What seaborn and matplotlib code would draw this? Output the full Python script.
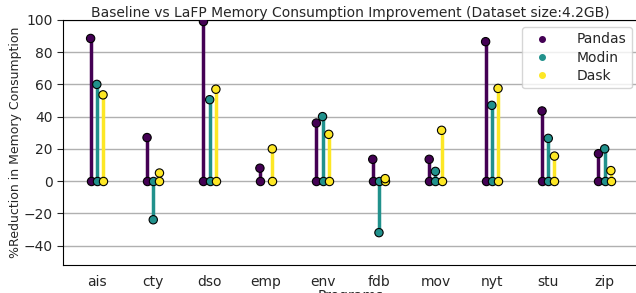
import numpy as np
import pandas as pd
import seaborn as sns
import matplotlib
matplotlib.use("Agg")
import matplotlib.pyplot as plt

programs = ["ais", "cty", "dso", "emp", "env", "fdb", "mov", "nyt", "stu", "zip"]
pandas_vals = [88.5, 27, 99, 8, 36, 13.5, 13.5, 86.5, 43.5, 17]
modin_vals = [60, -24, 50.5, np.nan, 40, -32, 6, 47, 26.5, 20]
dask_vals = [53.5, 5, 57, 20, 29, 1.5, 31.5, 57.5, 15.5, 6.5]
series = ["Pandas", "Modin", "Dask"]

# tabla larga
df = pd.DataFrame({"Program": programs, "Pandas": pandas_vals,
                   "Modin": modin_vals, "Dask": dask_vals})
df = df.melt(id_vars="Program", var_name="Tool", value_name="Value").dropna()
offsets = {"Pandas": -0.11, "Modin": 0.0, "Dask": 0.11}
df["x"] = df["Program"].map({p: i for i, p in enumerate(programs)}) + df["Tool"].map(offsets)

colors = {"Pandas": "#440154", "Modin": "#21918c", "Dask": "#fde725"}

sns.set_style("white")
fig = plt.figure(figsize=(6.36, 2.93), dpi=100)
ax = fig.add_axes([0.099, 0.096, 0.905, 0.836])
ax.yaxis.grid(True, color="#b0b0b0", linewidth=1)
ax.set_axisbelow(True)

for tool in series:
    d = df[df["Tool"] == tool]
    ax.vlines(d["x"], 0, d["Value"], color=colors[tool], linewidth=2.5, zorder=2)
    ax.scatter(d["x"], np.zeros(len(d)), s=36, color=colors[tool], edgecolor="black",
               linewidth=0.8, zorder=3)

sns.scatterplot(data=df, x="x", y="Value", hue="Tool", hue_order=series, palette=colors,
                s=36, edgecolor="black", linewidth=0.8, zorder=4, ax=ax, legend=False)

for tool in series:
    ax.plot([], [], "o", color=colors[tool], markersize=4, label=tool, linestyle="none")
ax.legend(loc="upper right", fontsize=10, handletextpad=1.5, borderpad=0.4,
          labelspacing=0.3, frameon=True, edgecolor="#cccccc", fancybox=True)

ax.set_xticks(range(len(programs)))
ax.set_xticklabels(programs, fontsize=10)
ax.set_xlim(-0.6, len(programs) - 0.4)
ax.set_ylim(-52, 100)
ax.set_yticks(range(-40, 101, 20))
ax.tick_params(axis="y", labelsize=10, left=True, length=4)
ax.tick_params(axis="x", bottom=False)
ax.set_xlabel("Programs", fontsize=10, labelpad=0)
ax.set_ylabel("%Reduction in Memory Consumption", fontsize=9, labelpad=1)
ax.set_title("Baseline vs LaFP Memory Consumption Improvement (Dataset size:4.2GB)",
             fontsize=10, pad=2)
for s in ax.spines.values():
    s.set_color("black")

plt.savefig("out.png", dpi=100)
